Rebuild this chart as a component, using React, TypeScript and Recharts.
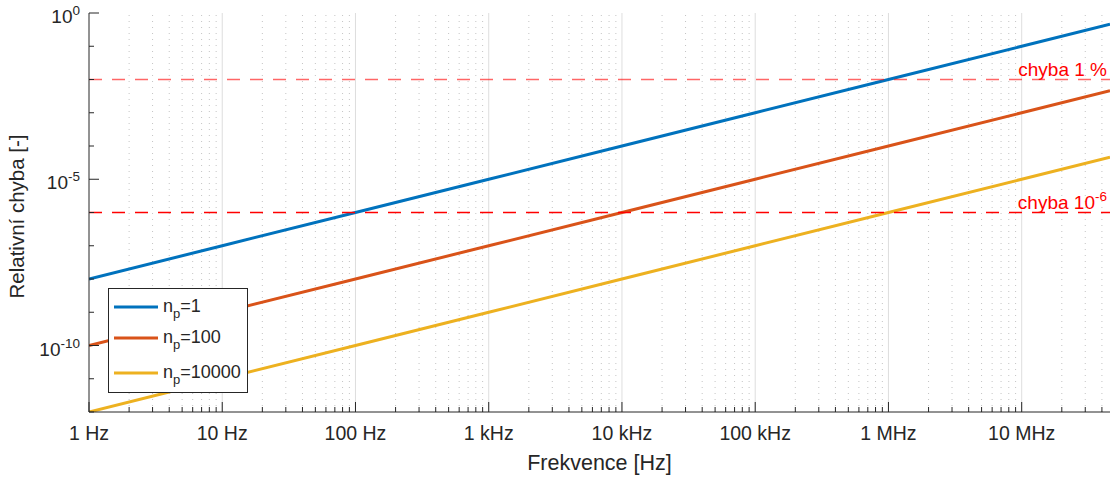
import React from "react";
import { LineChart, Line, XAxis, YAxis, ReferenceLine } from "recharts";

// frequency [Hz] and relative error for the three n_p values
const frequencies = [1, 10, 100, 1e3, 1e4, 1e5, 1e6, 1e7, 4.6e7];
const errorNp1 = [1e-8, 1e-7, 1e-6, 1e-5, 1e-4, 1e-3, 1e-2, 1e-1, 4.6e-1];
const errorNp100 = [1e-10, 1e-9, 1e-8, 1e-7, 1e-6, 1e-5, 1e-4, 1e-3, 4.6e-3];
const errorNp10000 = [1e-12, 1e-11, 1e-10, 1e-9, 1e-8, 1e-7, 1e-6, 1e-5, 4.6e-5];

const freqLabels = ["1 Hz", "10 Hz", "100 Hz", "1 kHz", "10 kHz", "100 kHz", "1 MHz", "10 MHz"];
const yLabelExponents = [0, -5, -10];
const yRange = [1e-12, 1e0];

const thresholds = [
  { value: 1e-2, text: "chyba 1 %", sup: "", opacity: 0.6 },
  { value: 1e-6, text: "chyba 10", sup: "-6", opacity: 1 },
];

const series = [
  { key: "np1", label: "1", color: "#0072BD" },
  { key: "np100", label: "100", color: "#D95319" },
  { key: "np10000", label: "10000", color: "#EDB120" },
];

const TEXT = "#262626";
const FONT = "'Liberation Sans', Arial, Helvetica, sans-serif";

const data = frequencies.map((f, i) => ({
  lf: Math.log10(f),
  np1: Math.log10(errorNp1[i]),
  np100: Math.log10(errorNp100[i]),
  np10000: Math.log10(errorNp10000[i]),
}));

const xMax = Math.log10(frequencies[frequencies.length - 1]);
const yMin = Math.log10(yRange[0]);
const yMax = Math.log10(yRange[1]);

const xTicks: number[] = [];
for (let d = 0; d <= Math.floor(xMax); d++) {
  for (let k = 1; k <= 9; k++) {
    const v = d + Math.log10(k);
    if (v <= xMax + 1e-9) xTicks.push(v);
  }
}
const yTicks: number[] = [];
for (let e = yMin; e <= yMax; e++) yTicks.push(e);

const isMajor = (v: number) => Math.abs(v - Math.round(v)) < 1e-9;

const XTick = (props: any) => {
  const { x, y, payload, top } = props;
  const v = payload.value;
  const major = isMajor(v);
  const len = major ? 10 : 5;
  const dir = top ? 1 : -1;
  return (
    <g>
      <line x1={x} x2={x} y1={y} y2={y + dir * len} stroke={TEXT} strokeWidth={1} />
      {!top && major && (
        <text x={x} y={y + 28} textAnchor="middle" fill={TEXT} fontSize={19.5} fontFamily={FONT}>
          {freqLabels[Math.round(v)]}
        </text>
      )}
    </g>
  );
};

const YTick = (props: any) => {
  const { x, y, payload, right } = props;
  const v = Math.round(payload.value);
  const major = yLabelExponents.includes(v);
  const len = major ? 10 : 5;
  const dir = right ? -1 : 1;
  return (
    <g>
      <line x1={x} x2={x + dir * len} y1={y} y2={y} stroke={TEXT} strokeWidth={1} />
      {!right && major && (
        <text x={x - 9} y={y + 10} textAnchor="end" fill={TEXT} fontSize={19} fontFamily={FONT}>
          10
          <tspan dy={-8} fontSize={13.5}>
            {v}
          </tspan>
        </text>
      )}
    </g>
  );
};

const ThresholdLabel = (props: any) => {
  const { viewBox, text, sup } = props;
  const x = viewBox.x + viewBox.width - 3;
  const y = viewBox.y - 4;
  return (
    <text x={x} y={y} textAnchor="end" fill="#ff0000" fontSize={19} fontFamily={FONT}>
      {text}
      {sup && (
        <tspan dy={-8} fontSize={13.5}>
          {sup}
        </tspan>
      )}
    </text>
  );
};

const XTitle = (props: any) => {
  const { viewBox } = props;
  return (
    <text x={viewBox.x + viewBox.width / 2} y={viewBox.y + 58} textAnchor="middle" fill={TEXT} fontSize={21.5} fontFamily={FONT}>
      Frekvence [Hz]
    </text>
  );
};

const YTitle = (props: any) => {
  const { viewBox } = props;
  const cy = viewBox.y + viewBox.height / 2 + 4;
  return (
    <text x={24} y={cy} transform={`rotate(-90 24 ${cy})`} textAnchor="middle" fill={TEXT} fontSize={20.5} fontFamily={FONT}>
      Relativní chyba [-]
    </text>
  );
};

const rowY = [19, 50, 85];

function LegendBox() {
  return (
    <svg
      width={140}
      height={105}
      style={{ position: "absolute", left: 108, top: 288, overflow: "visible" }}
    >
      <rect x={0.5} y={0.5} width={139} height={104} fill="#fff" stroke={TEXT} strokeWidth={1} />
      {series.map((s, i) => (
        <g key={s.key}>
          <line x1={6} x2={50} y1={rowY[i]} y2={rowY[i]} stroke={s.color} strokeWidth={3} />
          <text x={55} y={rowY[i] + 5} fill={TEXT} fontSize={18} fontFamily={FONT}>
            n
            <tspan dy={6} fontSize={13}>
              p
            </tspan>
            <tspan dy={-6} fontSize={18}>
              ={s.label}
            </tspan>
          </text>
        </g>
      ))}
    </svg>
  );
}

export default function App() {
  return (
    <div style={{ position: "relative", width: 1110, height: 477, fontFamily: FONT }}>
      <style>{`body { margin: 0; overflow: hidden; } .recharts-surface { overflow: visible; }`}</style>
      <LineChart width={1110} height={477} data={data} margin={{ top: 13, right: 0, bottom: 0, left: 0 }}>
        <XAxis
          dataKey="lf"
          type="number"
          domain={[0, xMax]}
          ticks={xTicks}
          interval={0}
          allowDataOverflow
          height={65}
          tickLine={false}
          tickSize={0}
          tickMargin={0}
          axisLine={{ stroke: TEXT }}
          tick={<XTick />}
          label={<XTitle />}
        />
        <XAxis
          xAxisId="top"
          orientation="top"
          type="number"
          domain={[0, xMax]}
          ticks={xTicks}
          interval={0}
          allowDataOverflow
          height={0}
          tickLine={false}
          tickSize={0}
          tickMargin={0}
          axisLine={{ stroke: TEXT }}
          tick={<XTick top />}
        />
        <YAxis
          type="number"
          domain={[yMin, yMax]}
          ticks={yTicks}
          interval={0}
          allowDataOverflow
          width={89}
          tickLine={false}
          tickSize={0}
          tickMargin={0}
          axisLine={{ stroke: TEXT }}
          tick={<YTick />}
          label={<YTitle />}
        />
        <YAxis
          yAxisId="right"
          orientation="right"
          type="number"
          domain={[yMin, yMax]}
          ticks={yTicks}
          interval={0}
          allowDataOverflow
          width={0}
          tickLine={false}
          tickSize={0}
          tickMargin={0}
          axisLine={{ stroke: TEXT }}
          tick={<YTick right />}
        />
        {xTicks
          .filter((v) => v > 0)
          .map((v) =>
            isMajor(v) ? (
              <ReferenceLine key={`g${v}`} x={v} stroke="#dedede" strokeWidth={1} />
            ) : (
              <ReferenceLine key={`g${v}`} x={v} stroke="#c4c4c4" strokeWidth={1} strokeDasharray="1 5" />
            )
          )}
        {series.map((s) => (
          <Line
            key={s.key}
            dataKey={s.key}
            type="linear"
            stroke={s.color}
            strokeWidth={3}
            dot={false}
            activeDot={false}
            isAnimationActive={false}
          />
        ))}
        {thresholds.map((t) => (
          <ReferenceLine
            key={t.text}
            y={Math.log10(t.value)}
            stroke="#ff0000"
            strokeOpacity={t.opacity}
            strokeWidth={1.3}
            strokeDasharray="13 10"
            label={<ThresholdLabel text={t.text} sup={t.sup} />}
          />
        ))}
      </LineChart>
      <LegendBox />
    </div>
  );
}
